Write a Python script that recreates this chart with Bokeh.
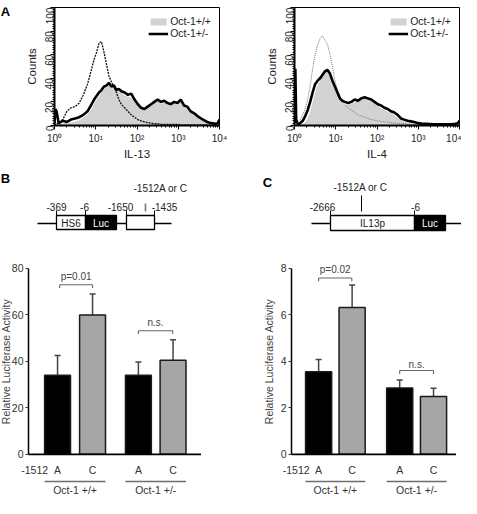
import math
from bokeh.plotting import figure
from bokeh.layouts import column, row
from bokeh.models import (Range1d, FixedTicker, Legend, LegendItem,
                          ColumnDataSource, Whisker, TeeHead)
from bokeh.embed import file_html
from bokeh.resources import INLINE
from bokeh.core.properties import value

FONT = "Liberation Sans"

# ---------------- data: flow cytometry histograms (x in log10 decades) ----------------
il13_x = [0.00, 0.02, 0.05, 0.10, 0.20, 0.30, 0.40, 0.50, 0.60, 0.70, 0.80, 0.90, 0.96,
          1.02, 1.08, 1.14, 1.20, 1.26, 1.32, 1.38, 1.44, 1.50, 1.56, 1.62, 1.70, 1.78,
          1.86, 1.94, 2.02, 2.10, 2.18, 2.26, 2.34, 2.42, 2.50, 2.58, 2.66, 2.74, 2.82,
          2.90, 2.98, 3.06, 3.14, 3.22, 3.30, 3.40, 3.50, 3.60, 3.70, 3.80, 3.90, 3.96, 4.00]
il13_wt = [0, 3, 2, 1, 1, 2, 2, 3, 4, 6, 9, 13, 17,
           21, 24, 27, 30, 33, 37, 33, 35, 28, 29, 27, 25, 24,
           23, 19, 16, 14, 13, 14, 16, 19, 21, 18, 19, 17, 16,
           18, 17, 20, 15, 15, 11, 8, 5, 3, 1.5, 1, 0.5, 0.5, 0]
il13_het = [2, 14, 12, 2, 4, 3, 5, 6, 7, 9, 12, 18, 22,
            25, 28, 30, 33, 34, 36, 33, 34, 30, 31, 29, 28, 26,
            27, 22, 18, 15, 14, 16, 18, 20, 22, 20, 21, 19, 18,
            20, 19, 22, 17, 16, 12, 10, 7, 5, 3, 2, 1.5, 2, 5]
il13_iso = [0, 1, 1, 2, 5, 12, 15, 16, 19, 26, 35, 48, 56,
            62, 70, 71, 62, 52, 42, 37, 33, 28, 22, 18, 15, 12,
            9, 7, 5, 4, 3, 2.5, 2, 1.5, 1.5, 1, 1, 1, 1,
            1, 1, 0.5, 0.5, 0.5, 0.5, 0.5, 0.5, 0.5, 0.5, 0, 0, 0, 0]

il4_x = [0.00, 0.02, 0.04, 0.08, 0.14, 0.20, 0.26, 0.32, 0.38, 0.44, 0.50, 0.56, 0.62,
         0.68, 0.74, 0.80, 0.86, 0.92, 0.98, 1.04, 1.10, 1.16, 1.22, 1.30, 1.38, 1.46,
         1.54, 1.62, 1.70, 1.78, 1.86, 1.94, 2.02, 2.10, 2.18, 2.26, 2.34, 2.42, 2.50,
         2.58, 2.66, 2.74, 2.82, 2.90, 3.00, 3.10, 3.20, 3.35, 3.50, 3.65, 3.80, 3.90, 3.96, 4.00]
il4_wt = [0, 0, 0, 0, 0.5, 1, 2, 5, 10, 18, 26, 33, 37,
          42, 46, 48, 44, 37, 31, 26, 22, 19, 17, 17, 18, 19,
          21, 24, 23, 22, 20, 18, 16, 14, 13, 11, 10, 8, 6,
          4, 3, 2, 1.5, 1, 0.8, 0.5, 0.5, 0.3, 0.2, 0.2, 0.2, 0.2, 0.2, 0]
il4_het = [2, 48, 5, 1, 2, 4, 8, 13, 20, 28, 35, 38, 40,
           43, 46, 47, 44, 38, 33, 28, 23, 21, 20, 19, 20, 22,
           21, 23, 24, 23, 22, 20, 18, 17, 15, 14, 12, 11, 9,
           6, 5, 4, 3.5, 3, 2, 1.5, 1.5, 1, 1, 1, 1, 1.5, 2, 4]
il4_iso = [0, 1, 2, 3, 5, 9, 14, 22, 34, 48, 60, 68, 74,
           76, 72, 69, 60, 50, 38, 30, 25, 21, 18, 15, 13, 11,
           9, 8, 7, 6, 5, 4.5, 4, 3.5, 3, 3, 2.5, 2, 2,
           1.5, 1.5, 1, 1, 1, 1, 0.5, 0.5, 0.5, 0.5, 0.5, 0.5, 0.5, 0.5, 0]

hist_ticks = [0, 1, 2, 3, 4]
hist_tick_labels = ["10\u2070", "10\u00b9", "10\u00b2", "10\u00b3", "10\u2074"]
count_ticks = [0, 20, 40, 60, 80, 100]
legend_labels = ["Oct-1+/+", "Oct-1+/-"]

# ---------------- data: luciferase assays ----------------
allele_labels = ["A", "C", "A", "C"]
group_labels = ["Oct-1 +/+", "Oct-1 +/-"]
b_pos = [1.0, 2.0, 3.31, 4.30]
b_vals = [34, 60, 34, 40.5]
b_err = [42.5, 69, 39.8, 49.3]
c_pos = [1.0, 2.0, 3.42, 4.43]
c_vals = [3.55, 6.32, 2.86, 2.49]
c_err = [4.08, 7.29, 3.20, 2.84]
b_ticks = [0, 20, 40, 60, 80]
c_ticks = [0, 2, 4, 6, 8]
b_pvals = ["p=0.01", "n.s."]
c_pvals = ["p=0.02", "n.s."]

BAR_COLORS = ["black", "#a6a6a6", "black", "#a6a6a6"]


def style_text(ax):
    ax.major_label_text_font = FONT
    ax.axis_label_text_font = FONT
    ax.axis_label_text_font_style = "normal"


def blank(width, height):
    p = figure(width=width, height=height, x_range=Range1d(0, width),
               y_range=Range1d(height, 0), output_backend="svg", toolbar_location=None,
               x_axis_location=None, y_axis_location=None,
               min_border=0, min_border_left=0, min_border_right=0,
               min_border_top=0, min_border_bottom=0)
    p.xgrid.visible = False
    p.ygrid.visible = False
    p.outline_line_color = None
    return p


def dtext(p, x, y, t, size="10px", color="#222222", bold=False, angle=0.0):
    p.text(x=[x], y=[y], text=[t], text_font=value(FONT), text_font_size=size,
           text_color=color, text_align="center", text_baseline="middle",
           text_font_style="bold" if bold else "normal", angle=angle)


def histogram(xs, wt, het, iso, xlabel, iso_color, iso_dash, iso_width, width, left, right):
    p = figure(width=width, height=163, x_range=Range1d(0, 4), y_range=Range1d(0, 100),
               output_backend="svg", toolbar_location=None,
               min_border_left=left, min_border_right=right, min_border_top=7,
               min_border_bottom=38)
    p.xgrid.visible = False
    p.ygrid.visible = False
    p.outline_line_color = "black"
    p.outline_line_width = 1
    p.outline_line_alpha = 1

    src = ColumnDataSource(dict(x=xs, wt=wt, het=het, iso=iso))
    r_wt = p.varea(x="x", y1=0, y2="wt", source=src, fill_color="#d2d2d2")
    p.line(x="x", y="wt", source=src, line_color="#c4c4c4", line_width=0.8)
    p.line(x="x", y="iso", source=src, line_color=iso_color, line_width=iso_width,
           line_dash=iso_dash)
    r_het = p.line(x="x", y="het", source=src, line_color="black", line_width=2.6)

    mtick = [d + math.log10(k) for d in range(4) for k in range(2, 10)]
    p.xaxis.ticker = FixedTicker(ticks=hist_ticks, minor_ticks=mtick)
    p.xaxis.major_label_overrides = {t: l for t, l in zip(hist_ticks, hist_tick_labels)}
    p.yaxis.ticker = FixedTicker(ticks=count_ticks, minor_ticks=list(range(0, 101, 2)))
    p.yaxis.major_label_orientation = math.pi / 2
    for ax in (p.xaxis[0], p.yaxis[0]):
        style_text(ax)
        ax.axis_line_width = 2
        ax.axis_line_color = "black"
        ax.major_tick_out = 4
        ax.major_tick_in = 0
        ax.minor_tick_out = 2
        ax.minor_tick_in = 0
        ax.major_label_text_font_size = "10px"
        ax.major_label_text_color = "#222222"
        ax.axis_label_text_font_size = "11.5px"
        ax.axis_label_text_color = "#222222"
        ax.axis_label_standoff = 1
    p.xaxis.major_label_standoff = 3
    p.yaxis.major_label_standoff = 1
    p.xaxis.axis_label = xlabel
    p.yaxis.axis_label = "Counts"

    leg = Legend(items=[LegendItem(label=legend_labels[0], renderers=[r_wt]),
                        LegendItem(label=legend_labels[1], renderers=[r_het])],
                 location="top_right", margin=4, padding=4, spacing=0,
                 glyph_width=20, glyph_height=9, label_height=10, label_standoff=2,
                 label_text_font=FONT, label_text_font_size="10.5px",
                 label_text_color="#222222",
                 border_line_alpha=0, background_fill_alpha=0)
    p.add_layout(leg)
    return p


fA = blank(12, 163)
dtext(fA, 5, 5, "A", size="13px", color="black", bold=True)
hA1 = histogram(il13_x, il13_wt, il13_het, il13_iso, "IL-13", "#111111", "2 1", 1.3,
                228, 42, 21)
hA2 = histogram(il4_x, il4_wt, il4_het, il4_iso, "IL-4", "#777777", "1 1", 1.0,
                221, 54, 2)

# ---------------- construct diagrams ----------------
dB = blank(240, 95)
dB.segment(x0=[37, 116, 154], y0=[60, 60, 60], x1=[56, 126, 171], y1=[60, 60, 60],
           line_color="black", line_width=1.3)
dB.quad(left=[56, 126], right=[85, 154], top=[52, 52], bottom=[66, 66],
        fill_color="white", line_color="black", line_width=1.3)
dB.quad(left=[85], right=[116], top=[52], bottom=[66], fill_color="black",
        line_color="black", line_width=1.3)
dB.segment(x0=[56, 85, 126, 154], y0=[47, 47, 47, 47], x1=[56, 85, 126, 154],
           y1=[52, 52, 52, 52], line_color="black", line_width=1)
dB.segment(x0=[145], y0=[40], x1=[145], y1=[48], line_color="#777777", line_width=1.6)
dtext(dB, 5, 15, "B", size="13px", color="black", bold=True)
dtext(dB, 70.5, 59.5, "HS6")
dtext(dB, 100.5, 59.5, "Luc", color="white")
dtext(dB, 56, 43, "-369")
dtext(dB, 84, 43, "-6")
dtext(dB, 120, 43, "-1650")
dtext(dB, 164, 43, "-1435")
dtext(dB, 160, 25, "-1512A or C")

dC = blank(221, 95)
dC.segment(x0=[71, 205], y0=[60, 60], x1=[90, 221], y1=[60, 60],
           line_color="black", line_width=1.3)
dC.quad(left=[90], right=[174], top=[52], bottom=[67], fill_color="white",
        line_color="black", line_width=1.3)
dC.quad(left=[174], right=[205], top=[52], bottom=[67], fill_color="black",
        line_color="black", line_width=1.3)
dC.segment(x0=[90, 174], y0=[47, 47], x1=[90, 174], y1=[52, 52], line_color="black",
           line_width=1)
dC.segment(x0=[121], y0=[32], x1=[121], y1=[48], line_color="black", line_width=1)
dtext(dC, 27, 19, "C", size="13px", color="black", bold=True)
dtext(dC, 132, 60, "IL13p")
dtext(dC, 189.5, 59.5, "Luc", color="white")
dtext(dC, 82, 43, "-2666")
dtext(dC, 175, 43, "-6")
dtext(dC, 120, 24, "-1512A or C")


# ---------------- bar charts ----------------
def barchart(width, pos, vals, errs, ticks, ymax_axis, yrange, xrange, axis_x, bw,
             pvals, brackets, unit, ylab_x):
    p = figure(width=width, height=240, x_range=Range1d(*xrange), y_range=Range1d(*yrange),
               output_backend="svg", toolbar_location=None, x_axis_location=None,
               min_border_left=0, min_border_right=0, min_border_top=3,
               min_border_bottom=0)
    p.xgrid.visible = False
    p.ygrid.visible = False
    p.outline_line_color = None
    ax = p.yaxis[0]
    style_text(ax)
    ax.fixed_location = axis_x
    ax.ticker = FixedTicker(ticks=ticks)
    ax.bounds = (0, ymax_axis)
    ax.axis_line_width = 1.5
    ax.axis_line_color = "black"
    ax.major_tick_out = 3
    ax.major_tick_in = 0
    ax.minor_tick_line_color = None
    ax.major_tick_line_color = "#333333"
    ax.major_label_text_font_size = "10.5px"
    ax.major_label_text_color = "#333333"
    ax.major_label_standoff = 2

    src = ColumnDataSource(dict(x=pos, top=vals, err=errs, color=BAR_COLORS,
                                lab=allele_labels))
    p.vbar(x="x", top="top", width=bw, bottom=0, source=src, fill_color="color",
           line_color="#1a1a1a", line_width=1.5)
    p.add_layout(Whisker(source=src, base="x", lower="top", upper="err",
                         line_color="#444444", line_width=1.5,
                         upper_head=TeeHead(size=6, line_color="#444444", line_width=1.5),
                         lower_head=None))
    # baseline
    p.segment(x0=[axis_x], y0=[0], x1=[5.1], y1=[0], line_color="black", line_width=1.6)
    # allele labels
    p.text(x="x", y=-0.0866 * unit, text="lab", source=src, text_font=value(FONT),
           text_font_size="10.5px", text_color="#333333", text_align="center",
           text_baseline="middle")
    p.text(x=[pos[0] - 0.27], y=[-0.0866 * unit], text=["-1512"], text_font=value(FONT),
           text_font_size="10.5px", text_color="#333333", text_align="right",
           text_baseline="middle")
    # group lines and labels
    gl = [pos[0] - bw / 2, pos[2] - bw / 2]
    gr = [pos[1] + bw / 2, pos[3] + bw / 2]
    p.segment(x0=gl, y0=[-0.1458 * unit] * 2, x1=gr, y1=[-0.1458 * unit] * 2,
              line_color="#6e6e6e", line_width=1.5)
    p.text(x=[(a + b) / 2 for a, b in zip(gl, gr)], y=[-0.194 * unit] * 2, text=group_labels,
           text_font=value(FONT), text_font_size="10.5px", text_color="#333333",
           text_align="center", text_baseline="middle")
    # significance brackets
    for (x0, x1, yb, yt, ytx), lab in zip(brackets, pvals):
        p.segment(x0=[x0, x0, x1], y0=[yb, yb, yb], x1=[x1, x0, x1], y1=[yb, yt, yt],
                  line_color="#666666", line_width=1.1)
        p.text(x=[(x0 + x1) / 2], y=[ytx], text=[lab], text_font=value(FONT),
               text_font_size="10px", text_color="#444444", text_align="center",
               text_baseline="middle")
    # y axis title
    p.text(x=[ylab_x], y=[unit / 2], text=["Relative Luciferase Activity"],
           text_font=value(FONT), text_font_size="10.5px", text_color="#444444",
           text_align="center", text_baseline="middle", angle=math.pi / 2)
    return p


bB = barchart(240, b_pos, b_vals, b_err, b_ticks, 80, (-19, 83), (-0.63, 6.227), 0.17, 0.74,
              b_pvals, [(1.06, 2.0, 73.0, 71.6, 76.5), (3.31, 4.29, 53.2, 51.8, 56.8)], 80,
              -0.487)
bC = barchart(221, c_pos, c_vals, c_err, c_ticks, 8, (-1.9, 8.3), (-1.332, 5.265), 0.19, 0.78,
              c_pvals, [(1.0, 1.99, 7.59, 7.45, 7.96), (3.42, 4.43, 3.61, 3.46, 3.88)], 8,
              -0.496)

layout = column(row(fA, hA1, hA2), row(dB, dC), row(bB, bC))

with open("out.html", "w") as f:
    f.write(file_html(layout, INLINE))
